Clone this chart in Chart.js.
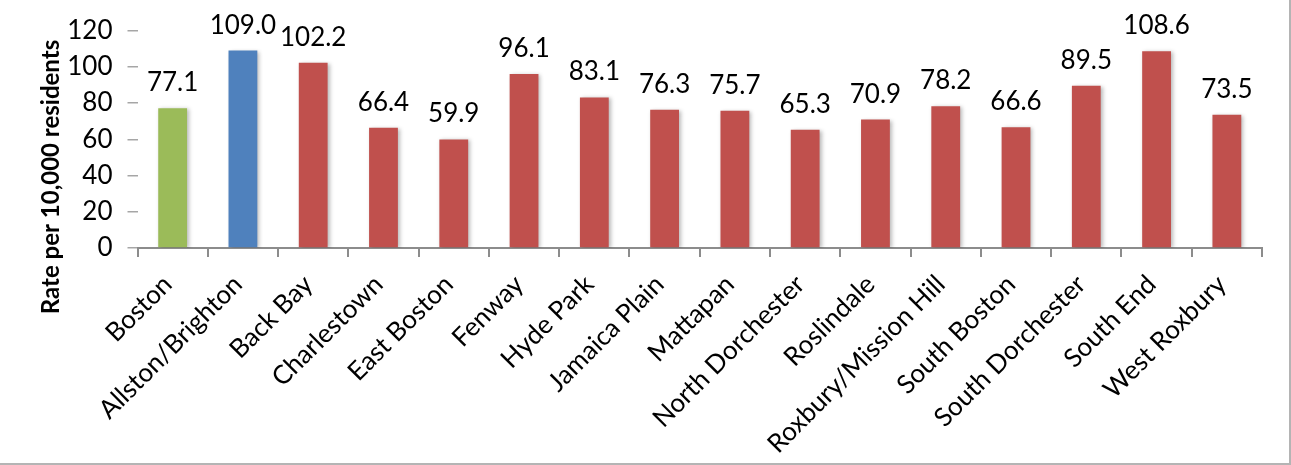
<!DOCTYPE html>
<html>
<head>
<meta charset="utf-8">
<script src="https://cdn.jsdelivr.net/npm/chart.js@4.4.1/dist/chart.umd.min.js"></script>
<style>
  body { margin: 0; background: #fff; }
  #wrap { position: relative; width: 1289px; height: 463px; border-right: 2px solid #b4b4b4; border-bottom: 2px solid #b4b4b4; }
</style>
</head>
<body>
<div id="wrap"><canvas id="myChart" width="1289" height="463"></canvas></div>
<script>
const neighborhoods = ["Boston", "Allston/Brighton", "Back Bay", "Charlestown", "East Boston", "Fenway",
  "Hyde Park", "Jamaica Plain", "Mattapan", "North Dorchester", "Roslindale", "Roxbury/Mission Hill",
  "South Boston", "South Dorchester", "South End", "West Roxbury"];
const rates = [77.1, 109.0, 102.2, 66.4, 59.9, 96.1, 83.1, 76.3, 75.7, 65.3, 70.9, 78.2, 66.6, 89.5, 108.6, 73.5];
const barColors = ["#9BBB59", "#4F81BD", "#C0504D", "#C0504D", "#C0504D", "#C0504D", "#C0504D", "#C0504D",
  "#C0504D", "#C0504D", "#C0504D", "#C0504D", "#C0504D", "#C0504D", "#C0504D", "#C0504D"];
const yTitle = "Rate per 10,000 residents";

const FONT = "Lato";
const TXT = 26;

// soft drop shadow under the bars
const barShadow = {
  id: 'barShadow',
  beforeDatasetsDraw(chart) {
    const c = chart.ctx;
    c.save();
    c.shadowColor = 'rgba(0,0,0,0.28)';
    c.shadowBlur = 4;
    c.shadowOffsetX = 2;
    c.shadowOffsetY = 1;
  },
  afterDatasetsDraw(chart) {
    chart.ctx.restore();
  }
};

// value above each bar
const valueLabels = {
  id: 'valueLabels',
  afterDatasetsDraw(chart) {
    const c = chart.ctx;
    const meta = chart.getDatasetMeta(0);
    c.save();
    c.shadowColor = 'transparent';
    c.font = TXT + 'px ' + FONT;
    c.fillStyle = '#000';
    c.textAlign = 'center';
    c.textBaseline = 'alphabetic';
    meta.data.forEach((bar, i) => {
      c.fillText(rates[i].toFixed(1), bar.x, bar.y - 17);
    });
    c.restore();
  }
};

// y axis title, centred on the whole left column
const yTitlePlugin = {
  id: 'yTitlePlugin',
  afterDraw(chart) {
    const c = chart.ctx;
    c.save();
    c.translate(51, 177);
    c.rotate(-Math.PI / 2);
    c.font = 'bold 24px ' + FONT;
    c.fillStyle = '#000';
    c.textAlign = 'center';
    c.textBaseline = 'middle';
    c.fillText(yTitle, 0, 0);
    c.restore();
  }
};

const ctx = document.getElementById('myChart').getContext('2d');
let myChart = new Chart(ctx, {
  type: 'bar',
  data: {
    labels: neighborhoods,
    datasets: [{
      data: rates,
      backgroundColor: barColors,
      borderWidth: 0,
      barPercentage: 0.41,
      categoryPercentage: 1
    }]
  },
  options: {
    responsive: false,
    animation: false,
    layout: { padding: { top: 28, right: 27, bottom: 0, left: 0 } },
    plugins: { legend: { display: false }, tooltip: { enabled: false } },
    scales: {
      x: {
        grid: { drawOnChartArea: false, tickLength: 9, color: '#8c8c8c', lineWidth: 2, offset: true },
        border: { color: '#8c8c8c', width: 2 },
        ticks: { minRotation: 45, maxRotation: 45, autoSkip: false, color: '#000', font: { family: FONT, size: TXT }, padding: 12, labelOffset: -5 },
        afterFit(scale) { scale.height = 463 - 248; }
      },
      y: {
        min: 0,
        max: 120,
        ticks: { stepSize: 20, color: '#000', font: { family: FONT, size: TXT }, padding: 15 },
        grid: { drawOnChartArea: false, tickLength: 10, color: '#a6a6a6', lineWidth: 1.5 },
        border: { display: false },
        afterFit(scale) { scale.width = 137.5; }
      }
    }
  },
  plugins: [barShadow, valueLabels, yTitlePlugin]
});
</script>
</body>
</html>
